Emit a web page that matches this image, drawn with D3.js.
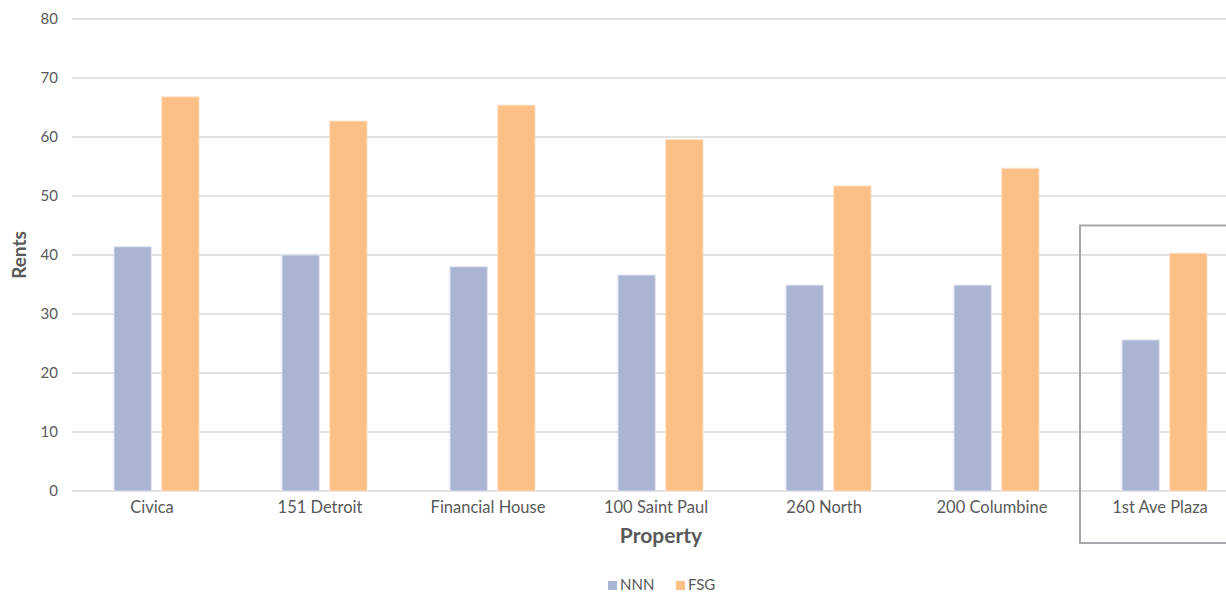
<!DOCTYPE html>
<html>
<head>
<meta charset="utf-8">
<script src="https://cdn.jsdelivr.net/npm/d3@7"></script>
<style>
  body { margin: 0; background: #fff; }
  svg, svg text { font-family: "Source Sans Pro", Lato, "Noto Sans", sans-serif; }
  .tick text { fill: #595959; font-size: 15px; }
  .xaxis .tick text { font-size: 16.5px; }
</style>
</head>
<body>
<svg id="chart" width="1226" height="593"></svg>
<script>
// data
var properties = ["Civica", "151 Detroit", "Financial House", "100 Saint Paul", "260 North", "200 Columbine", "1st Ave Plaza"];
var nnn = [41.4, 40.0, 38.0, 36.6, 34.9, 34.9, 25.6];
var fsg = [66.8, 62.7, 65.4, 59.6, 51.7, 54.7, 40.3];
var seriesNames = ["NNN", "FSG"];
var yTicks = [0, 10, 20, 30, 40, 50, 60, 70, 80];
var highlighted = "1st Ave Plaza";

var colors = { NNN: "#aab4d3", FSG: "#fcbf86" };

var svg = d3.select("#chart");
var plotLeft = 72, plotTop = 19, plotBottom = 491;
var bandW = 168;

var x = d3.scaleBand()
    .domain(properties)
    .range([plotLeft, plotLeft + bandW * properties.length])
    .paddingInner(0).paddingOuter(0);

var inner = d3.scaleBand()
    .domain(seriesNames)
    .range([42, 127])
    .paddingInner(0.22);

var y = d3.scaleLinear()
    .domain([0, 80])
    .range([plotBottom, plotTop]);

// gridlines
svg.append("g")
    .selectAll("line")
    .data(yTicks)
    .enter()
    .append("line")
    .attr("x1", plotLeft)
    .attr("x2", plotLeft + bandW * properties.length)
    .attr("y1", function (d) { return y(d); })
    .attr("y2", function (d) { return y(d); })
    .attr("stroke", "#d9d9d9")
    .attr("stroke-width", 1.5);

// y axis labels
var yAxis = d3.axisLeft(y).tickValues(yTicks).tickSize(0).tickPadding(14);
svg.append("g")
    .attr("transform", "translate(" + plotLeft + ",0)")
    .call(yAxis)
    .call(function (g) { g.select(".domain").remove(); });

// x axis labels (sit a little left of the band centre, as in the original)
var xAxis = d3.axisBottom(x).tickSize(0).tickPadding(10);
svg.append("g")
    .attr("class", "xaxis")
    .attr("transform", "translate(-4," + plotBottom + ")")
    .call(xAxis)
    .call(function (g) { g.select(".domain").remove(); });

// bars
var rows = properties.map(function (p, i) {
    return { name: p, NNN: nnn[i], FSG: fsg[i] };
});

var groups = svg.append("g")
    .selectAll("g")
    .data(rows)
    .enter()
    .append("g")
    .attr("transform", function (d) { return "translate(" + x(d.name) + ",0)"; });

groups.selectAll("rect")
    .data(function (d) {
        return seriesNames.map(function (s) { return { key: s, value: d[s] }; });
    })
    .enter()
    .append("rect")
    .attr("x", function (d) { return inner(d.key); })
    .attr("width", inner.bandwidth())
    .attr("y", function (d) { return y(d.value); })
    .attr("height", function (d) { return plotBottom - y(d.value); })
    .attr("fill", function (d) { return colors[d.key]; })
    .attr("stroke", function (d) { return d.key === "NNN" ? "#dde2ef" : "#fde0c4"; })
    .attr("stroke-width", 1);

// highlight box round the last property
svg.append("rect")
    .attr("x", x(highlighted))
    .attr("y", y(45))
    .attr("width", x.bandwidth())
    .attr("height", 543 - y(45))
    .attr("fill", "none")
    .attr("stroke", "#a5a8ab")
    .attr("stroke-width", 2);

// axis titles
svg.append("text")
    .attr("transform", "translate(26," + (plotTop + plotBottom) / 2 + ") rotate(-90)")
    .attr("text-anchor", "middle")
    .attr("fill", "#595959")
    .style("font-size", "19px")
    .style("font-weight", "bold")
    .text("Rents");

svg.append("text")
    .attr("x", 661)
    .attr("y", 543)
    .attr("text-anchor", "middle")
    .attr("fill", "#595959")
    .style("font-size", "21px")
    .style("font-weight", "bold")
    .text("Property");

// legend
var legend = svg.append("g").attr("transform", "translate(608,590)");
var items = legend.selectAll("g")
    .data(seriesNames)
    .enter()
    .append("g")
    .attr("transform", function (d, i) { return "translate(" + (i * 68) + ",0)"; });
items.append("rect")
    .attr("x", 0).attr("y", -9)
    .attr("width", 9).attr("height", 9)
    .attr("fill", function (d) { return colors[d]; });
items.append("text")
    .attr("x", 12).attr("y", 0)
    .attr("fill", "#595959")
    .style("font-size", "15px")
    .text(function (d) { return d; });
</script>
</body>
</html>
